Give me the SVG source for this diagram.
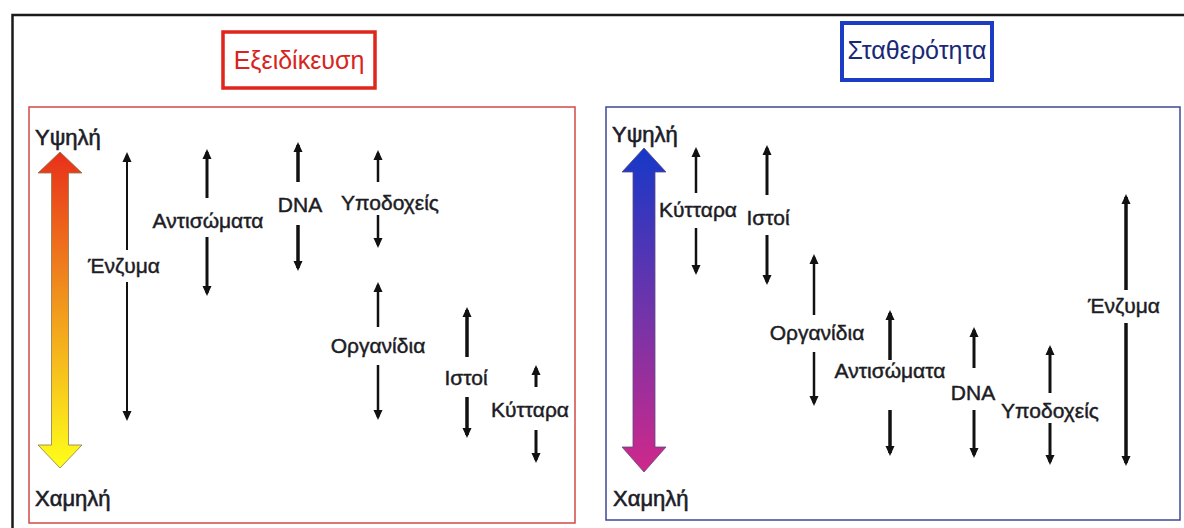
<svg xmlns="http://www.w3.org/2000/svg" width="1184" height="528" viewBox="0 0 1184 528">
  <defs>
    <style>
      .lbl { font-family: "Liberation Sans", Arial, sans-serif; font-size: 21px; fill: #1c1c24; stroke: #1c1c24; stroke-width: 0.45; text-anchor: middle; }
      .axis { font-family: "Liberation Sans", Arial, sans-serif; font-size: 22px; fill: #1c1c28; stroke: #1c1c28; stroke-width: 0.6; }
      .title { font-family: "Liberation Sans", Arial, sans-serif; font-size: 25px; text-anchor: middle; }
      .conn line { stroke: #111; fill: none; }
    </style>
    <marker id="head" viewBox="0 0 10 10" refX="7" refY="5" markerWidth="10" markerHeight="10" markerUnits="userSpaceOnUse" orient="auto">
      <path d="M0,0.5 L10,5 L0,9.5 Z" fill="#111"/>
    </marker>
    <linearGradient id="warm" x1="0" y1="0" x2="0" y2="1">
      <stop offset="0" stop-color="#e8301a"/>
      <stop offset="0.45" stop-color="#f0901e"/>
      <stop offset="1" stop-color="#ffff1a"/>
    </linearGradient>
    <linearGradient id="cool" x1="0" y1="0" x2="0" y2="1">
      <stop offset="0" stop-color="#1638c8"/>
      <stop offset="0.5" stop-color="#7034aa"/>
      <stop offset="1" stop-color="#d0288a"/>
    </linearGradient>
  </defs>

  <rect width="1184" height="528" fill="#ffffff"/>

  <!-- outer frame -->
  <path d="M12.5,528 V15 H1184" fill="none" stroke="#1a1a1a" stroke-width="2.5"/>

  <!-- left panel: specialisation -->
  <g id="title-specialisation">
    <rect x="223" y="32" width="152" height="56" fill="#fff" stroke="#e0261c" stroke-width="3.5"/>
    <text class="title" x="299" y="69" fill="#d8241c">Εξειδίκευση</text>
  </g>
  <g id="panel-specialisation">
    <rect x="29" y="107" width="546" height="416" fill="none" stroke="#d04a44" stroke-width="1.5"/>
    <text class="axis" x="35" y="145">Υψηλή</text>
    <text class="axis" x="35" y="506">Χαμηλή</text>
    <path d="M60,152 L82,173 L68.5,173 L68.5,445 L82,445 L60,468 L38,445 L51.5,445 L51.5,173 L38,173 Z" fill="url(#warm)" stroke="#8a7a50" stroke-width="0.8"/>
  </g>

  <!-- right panel: stability -->
  <g id="title-stability">
    <rect x="842" y="23" width="150" height="57" fill="#fff" stroke="#1c3cc4" stroke-width="4"/>
    <text class="title" x="917" y="59" fill="#1a2878">Σταθερότητα</text>
  </g>
  <g id="panel-stability">
    <rect x="606" y="107" width="574" height="413" fill="none" stroke="#3c4896" stroke-width="1.5"/>
    <text class="axis" x="612" y="142">Υψηλή</text>
    <text class="axis" x="613" y="506">Χαμηλή</text>
    <path d="M644,148 L666,172 L655,172 L655,447 L666,447 L644,472 L622,447 L633,447 L633,172 L622,172 Z" fill="url(#cool)" stroke="#5a4a80" stroke-width="0.8"/>
  </g>

  <!-- range labels, left -->
  <g id="l-enzyma"><text class="lbl" x="124" y="273">Ένζυμα</text></g>
  <g id="l-antisomata"><text class="lbl" x="208" y="228">Αντισώματα</text></g>
  <g id="l-dna"><text class="lbl" x="300" y="212">DNA</text></g>
  <g id="l-ypodoxeis"><text class="lbl" x="390" y="210">Υποδοχείς</text></g>
  <g id="l-organidia"><text class="lbl" x="378" y="353">Οργανίδια</text></g>
  <g id="l-istoi"><text class="lbl" x="466" y="385">Ιστοί</text></g>
  <g id="l-kyttara"><text class="lbl" x="530" y="417">Κύτταρα</text></g>

  <!-- range labels, right -->
  <g id="r-kyttara"><text class="lbl" x="698" y="217">Κύτταρα</text></g>
  <g id="r-istoi"><text class="lbl" x="768" y="225">Ιστοί</text></g>
  <g id="r-organidia"><text class="lbl" x="817" y="340">Οργανίδια</text></g>
  <g id="r-antisomata"><text class="lbl" x="890" y="378">Αντισώματα</text></g>
  <g id="r-dna"><text class="lbl" x="973" y="400">DNA</text></g>
  <g id="r-ypodoxeis"><text class="lbl" x="1050" y="418">Υποδοχείς</text></g>
  <g id="r-enzyma"><text class="lbl" x="1124" y="313">Ένζυμα</text></g>

  <!-- double-headed range arrows, split around their labels -->
  <g id="connectors" class="conn" marker-end="url(#head)">
    <line x1="127" y1="250" x2="127" y2="155" stroke-width="2"/>
    <line x1="127" y1="282" x2="127" y2="418" stroke-width="2"/>
    <line x1="207" y1="198" x2="207" y2="152" stroke-width="3"/>
    <line x1="207" y1="237" x2="207" y2="293" stroke-width="3"/>
    <line x1="298" y1="182" x2="298" y2="145" stroke-width="3.5"/>
    <line x1="298" y1="225" x2="298" y2="268" stroke-width="3.5"/>
    <line x1="378" y1="182" x2="378" y2="153" stroke-width="2.5"/>
    <line x1="378" y1="215" x2="378" y2="245" stroke-width="2.5"/>
    <line x1="378" y1="327" x2="378" y2="285" stroke-width="2.5"/>
    <line x1="378" y1="365" x2="378" y2="417" stroke-width="2.5"/>
    <line x1="467" y1="357" x2="467" y2="310" stroke-width="3.5"/>
    <line x1="467" y1="397" x2="467" y2="435" stroke-width="3.5"/>
    <line x1="536" y1="387" x2="536" y2="368" stroke-width="3"/>
    <line x1="536" y1="430" x2="536" y2="460" stroke-width="3"/>

    <line x1="696" y1="193" x2="696" y2="150" stroke-width="2.5"/>
    <line x1="696" y1="228" x2="696" y2="272" stroke-width="2.5"/>
    <line x1="767" y1="195" x2="767" y2="148" stroke-width="3"/>
    <line x1="767" y1="235" x2="767" y2="282" stroke-width="3"/>
    <line x1="814" y1="315" x2="814" y2="257" stroke-width="2.5"/>
    <line x1="814" y1="352" x2="814" y2="403" stroke-width="2.5"/>
    <line x1="890" y1="360" x2="890" y2="313" stroke-width="3.5"/>
    <line x1="890" y1="410" x2="890" y2="453" stroke-width="3.5"/>
    <line x1="974" y1="368" x2="974" y2="330" stroke-width="3"/>
    <line x1="974" y1="410" x2="974" y2="455" stroke-width="3"/>
    <line x1="1050" y1="393" x2="1050" y2="348" stroke-width="3"/>
    <line x1="1050" y1="423" x2="1050" y2="462" stroke-width="3"/>
    <line x1="1126" y1="290" x2="1126" y2="197" stroke-width="3.5"/>
    <line x1="1126" y1="323" x2="1126" y2="463" stroke-width="3.5"/>
  </g>
</svg>
